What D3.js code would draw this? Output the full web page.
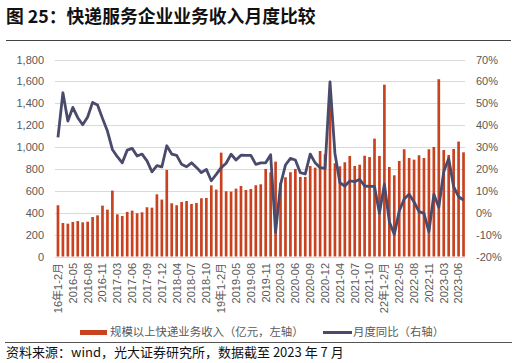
<!DOCTYPE html>
<html>
<head>
<meta charset="utf-8">
<style>
body { margin: 0; background: #fff; }
svg text { font-family: "Liberation Sans", "Noto Sans CJK SC", sans-serif; }
.cjk { font-family: "Noto Sans CJK SC", sans-serif; }
</style>
</head>
<body>
<svg width="516" height="363"></svg>
<script src="https://d3js.org/d3.v7.min.js"></script>
<script>
// 月份标签
var categories = [
  "16年1-2月","2016-03","2016-04","2016-05","2016-06","2016-07","2016-08","2016-09","2016-10","2016-11","2016-12",
  "17年1-2月","2017-03","2017-04","2017-05","2017-06","2017-07","2017-08","2017-09","2017-10","2017-11","2017-12",
  "18年1-2月","2018-03","2018-04","2018-05","2018-06","2018-07","2018-08","2018-09","2018-10","2018-11","2018-12",
  "19年1-2月","2019-03","2019-04","2019-05","2019-06","2019-07","2019-08","2019-09","2019-10","2019-11","2019-12",
  "20年1-2月","2020-03","2020-04","2020-05","2020-06","2020-07","2020-08","2020-09","2020-10","2020-11","2020-12",
  "21年1-2月","2021-03","2021-04","2021-05","2021-06","2021-07","2021-08","2021-09","2021-10","2021-11","2021-12",
  "22年1-2月","2022-03","2022-04","2022-05","2022-06","2022-07","2022-08","2022-09","2022-10","2022-11","2022-12",
  "23年1-2月","2023-03","2023-04","2023-05","2023-06","2023-07"
];

// 规模以上快递业务收入（亿元）
var revenue = [
  468, 306, 300, 315, 324, 312, 318, 361, 376, 465, 428,
  602, 385, 370, 407, 419, 395, 404, 450, 446, 568, 520,
  791, 486, 468, 498, 507, 480, 489, 532, 535, 650, 611,
  949, 596, 593, 620, 644, 608, 617, 651, 660, 800, 769,
  867, 672, 724, 770, 800, 727, 727, 827, 812, 964, 934,
  1380, 852, 824, 861, 919, 827, 839, 921, 909, 1077, 919,
  1570, 818, 742, 873, 980, 900, 885, 925, 900, 980, 1001,
  1620, 973, 928, 983, 1050, 952
];

// 月度同比（%）
var growth = [
  34.4, 54.8, 41.9, 48.1, 43.4, 40.2, 43.7, 50.4, 49.2, 43.1, 37.3,
  28.9, 25.6, 22.8, 28.6, 29.4, 25.9, 26.8, 23.7, 18.7, 21.5, 20.9,
  30.6, 26.8, 26.2, 22.1, 21.0, 22.8, 20.7, 18.3, 19.8, 14.6, 17.5,
  20.6, 22.6, 26.7, 24.1, 26.3, 26.2, 26.2, 22.1, 22.8, 22.8, 26.5,
  -9.0, 12.8, 21.8, 24.8, 24.1, 18.3, 17.7, 26.8, 22.8, 20.6, 20.3,
  59.8, 27.1, 13.7, 12.2, 14.5, 14.2, 15.3, 12.2, 12.0, 12.0, -0.3,
  13.1, -4.1, -9.9, 0.8, 6.3, 8.4, 4.9, 0.5, -0.3, -8.7, 8.4,
  2.5, 18.7, 24.8, 11.9, 7.3, 5.8
];

var leftTicks = [0, 200, 400, 600, 800, 1000, 1200, 1400, 1600, 1800];
var rightTicks = [-20, -10, 0, 10, 20, 30, 40, 50, 60, 70];

var barColor = "#c8421f",
    lineColor = "#4a4a6c",
    labelColor = "#595959";

var svg = d3.select("svg");

// 标题
svg.append("text")
    .attr("class", "cjk")
    .attr("x", 6)
    .attr("y", 22.5)
    .attr("font-size", 17.8)
    .attr("font-weight", "bold")
    .attr("fill", "#111")
    .text("图 25：快递服务企业业务收入月度比较");

svg.append("line")
    .attr("x1", 6).attr("x2", 511)
    .attr("y1", 40.5).attr("y2", 40.5)
    .attr("stroke", "#444").attr("stroke-width", 1);

var x = d3.scaleBand()
    .domain(d3.range(categories.length))
    .range([55.5, 466])
    .paddingInner(0.46)
    .paddingOuter(0.23);

var yL = d3.scaleLinear().domain([0, 1800]).range([256.5, 59.5]);
var yR = d3.scaleLinear().domain([-20, 70]).range([256.5, 59.5]);

// 网格线
svg.append("g")
  .selectAll("line")
  .data(leftTicks)
  .join("line")
    .attr("x1", 55).attr("x2", 465)
    .attr("y1", function(d) { return Math.round(yL(d)) + 0.5; })
    .attr("y2", function(d) { return Math.round(yL(d)) + 0.5; })
    .attr("stroke", "#d9d9d9")
    .attr("stroke-width", 1);

// 左轴
var axisL = svg.append("g")
    .attr("transform", "translate(44,0)")
    .call(d3.axisLeft(yL).tickValues(leftTicks).tickSize(0).tickPadding(0).tickFormat(d3.format(",")));
axisL.select(".domain").remove();
axisL.selectAll("text").attr("font-size", 11).attr("fill", labelColor)
    .attr("font-family", "Liberation Sans, sans-serif");

// 右轴
var axisR = svg.append("g")
    .attr("transform", "translate(476,0)")
    .call(d3.axisRight(yR).tickValues(rightTicks).tickSize(0).tickPadding(0)
      .tickFormat(function(d) { return d + "%"; }));
axisR.select(".domain").remove();
axisR.selectAll("text").attr("font-size", 11).attr("fill", labelColor)
    .attr("font-family", "Liberation Sans, sans-serif");

// 柱
svg.append("g")
  .selectAll("rect")
  .data(revenue)
  .join("rect")
    .attr("x", function(d, i) { return x(i); })
    .attr("width", x.bandwidth())
    .attr("y", function(d) { return yL(d); })
    .attr("height", function(d) { return yL(0) - yL(d); })
    .attr("fill", barColor);

// 折线
var line = d3.line()
    .x(function(d, i) { return x(i) + x.bandwidth() / 2; })
    .y(function(d) { return yR(d); });

svg.append("path")
    .datum(growth)
    .attr("d", line)
    .attr("fill", "none")
    .attr("stroke", lineColor)
    .attr("stroke-width", 2.8)
    .attr("stroke-linejoin", "round");

// x 轴标签（每隔 3 个）
svg.append("g")
  .selectAll("text")
  .data(categories.filter(function(d, i) { return i % 3 === 0; }))
  .join("text")
    .attr("transform", function(d) {
      var i = categories.indexOf(d);
      return "translate(" + (x(i) + x.bandwidth() / 2) + ",263) rotate(-90)";
    })
    .attr("dy", "0.35em")
    .attr("text-anchor", "end")
    .attr("font-size", 11)
    .attr("fill", labelColor)
    .text(function(d) { return d; });

// 图例
svg.append("rect")
    .attr("x", 80).attr("y", 330).attr("width", 27).attr("height", 5)
    .attr("fill", barColor);
svg.append("text")
    .attr("class", "cjk")
    .attr("x", 110).attr("y", 332.5).attr("dy", "0.35em")
    .attr("font-size", 11.4).attr("fill", labelColor)
    .text("规模以上快递业务收入（亿元，左轴）");

svg.append("line")
    .attr("x1", 323).attr("x2", 352)
    .attr("y1", 332.5).attr("y2", 332.5)
    .attr("stroke", lineColor).attr("stroke-width", 3);
svg.append("text")
    .attr("class", "cjk")
    .attr("x", 353).attr("y", 332.5).attr("dy", "0.35em")
    .attr("font-size", 11.4).attr("fill", labelColor)
    .text("月度同比（右轴）");

// 底部
svg.append("line")
    .attr("x1", 5).attr("x2", 512)
    .attr("y1", 342.5).attr("y2", 342.5)
    .attr("stroke", "#555").attr("stroke-width", 1.2);

svg.append("text")
    .attr("class", "cjk")
    .attr("x", 6).attr("y", 352.5).attr("dy", "0.35em")
    .attr("font-size", 13).attr("fill", "#111")
    .text("资料来源：wind，光大证券研究所，数据截至 2023 年 7 月");
</script>
</body>
</html>
